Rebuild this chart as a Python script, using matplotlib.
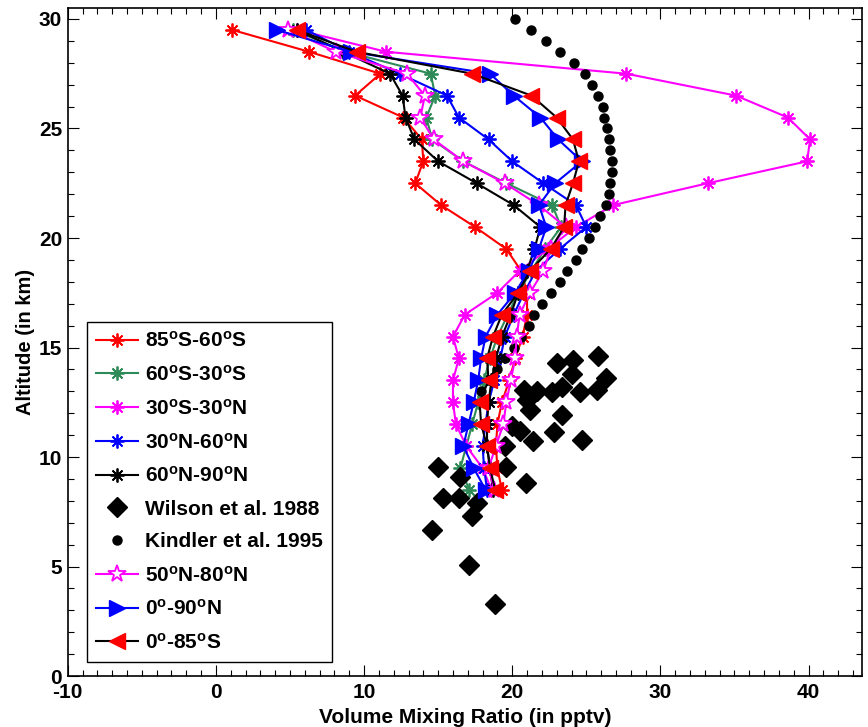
import numpy as np
import matplotlib
matplotlib.use("Agg")
import matplotlib.pyplot as plt
from matplotlib.ticker import MultipleLocator

plt.rcParams["font.family"] = ["Liberation Sans", "DejaVu Sans"]
plt.rcParams["font.weight"] = "bold"
plt.rcParams["mathtext.fontset"] = "custom"
plt.rcParams["mathtext.rm"] = "Liberation Sans:bold"
plt.rcParams["mathtext.bf"] = "Liberation Sans:bold"
plt.rcParams["mathtext.default"] = "bf"
plt.rcParams["axes.unicode_minus"] = False

# model altitude levels (km)
alt = [29.5, 28.5, 27.5, 26.5, 25.5, 24.5, 23.5, 22.5, 21.5, 20.5, 19.5,
       18.5, 17.5, 16.5, 15.5, 14.5, 13.5, 12.5, 11.5, 10.5, 9.5, 8.5]

s85_60 = [1.1, 6.3, 11.1, 9.4, 12.65, 13.9, 14.0, 13.45, 15.2, 17.5, 19.6,
          20.6, 21.0, 21.0, 20.7, 20.2, 19.8, 19.3, 19.0, 18.9, 19.0, 19.3]
s60_30 = [5.2, 8.8, 14.5, 14.8, 14.2, 14.6, 16.7, 19.6, 22.7, 23.3, 22.2,
          21.3, 20.4, 19.7, 19.0, 18.5, 18.1, 17.7, 17.3, 16.9, 16.5, 17.1]
s30_30 = [5.5, 11.5, 27.7, 35.1, 38.6, 40.1, 39.9, 33.2, 26.8, 24.3, 22.4,
          20.5, 19.0, 16.8, 16.0, 16.4, 16.0, 16.0, 16.2, 16.9, 18.0, 18.6]
n30_60 = [6.1, 9.0, 12.4, 15.6, 16.4, 18.4, 20.0, 22.1, 24.3, 25.0, 23.2,
          21.6, 20.8, 20.1, 19.5, 19.2, 18.8, 18.4, 18.2, 18.0, 18.1, 18.3]
n60_90 = [5.45, 8.6, 11.75, 12.6, 12.8, 13.4, 15.0, 17.6, 20.1, 21.9, 21.5,
          21.0, 20.4, 19.9, 19.3, 18.9, 18.6, 18.4, 18.3, 18.3, 18.5, 18.7]
n50_80 = [4.9, 8.1, 12.9, 14.1, 13.8, 14.7, 16.7, 19.5, 21.8, 23.6, 22.6,
          22.1, 21.2, 20.5, 20.3, 20.2, 19.9, 19.6, 19.4, 18.9, 18.4, 18.8]
n0_90 = [4.1, 9.1, 18.5, 20.1, 21.9, 23.1, 24.7, 22.9, 21.8, 22.3, 21.8,
         21.1, 20.2, 19.0, 18.2, 17.9, 17.7, 17.4, 17.05, 16.7, 17.4, 18.2]
s0_85 = [5.45, 9.5, 17.3, 21.3, 23.0, 24.1, 24.5, 24.1, 23.6, 23.5, 22.6,
         21.2, 20.4, 19.3, 18.7, 18.3, 18.4, 17.8, 17.9, 18.3, 18.5, 18.85]

# Wilson et al. 1988
wilson_x = [23.0, 24.1, 25.8, 24.0, 26.3, 20.8, 21.7, 22.7, 23.35, 24.55,
            25.7, 21.0, 21.2, 23.35, 20.0, 20.5, 21.4, 22.8, 24.7, 19.5,
            19.6, 20.9, 15.0, 16.5, 15.3, 16.4, 17.65, 17.3, 14.6, 17.05,
            18.85]
wilson_y = [14.3, 14.45, 14.6, 13.8, 13.6, 13.05, 13.0, 12.95, 13.2, 12.95,
            13.05, 12.6, 12.15, 11.9, 11.4, 11.2, 10.75, 11.15, 10.8, 10.5,
            9.55, 8.8, 9.55, 9.1, 8.15, 8.15, 7.9, 7.3, 6.65, 5.05,
            3.3]

# Kindler et al. 1995
kindler_y = [30.0, 29.5, 29.0, 28.5, 28.0, 27.5, 27.0, 26.5, 26.0, 25.5,
             25.0, 24.5, 24.0, 23.5, 23.0, 22.5, 22.0, 21.5, 21.0, 20.5,
             20.0, 19.5, 19.0, 18.5, 18.0, 17.5, 17.0, 16.5, 16.0, 15.5,
             15.0, 14.5, 14.0, 13.5, 13.0]
kindler_x = [20.2, 21.3, 22.3, 23.2, 24.2, 24.9, 25.4, 25.8, 26.1, 26.2,
             26.4, 26.55, 26.6, 26.7, 26.7, 26.6, 26.5, 26.3, 25.9, 25.6,
             25.2, 24.7, 24.3, 23.7, 23.2, 22.6, 22.0, 21.5, 21.1, 20.6,
             20.1, 19.5, 19.0, 18.5, 17.9]

ast = (8, 2, 0)

fig = plt.figure(figsize=(8.68, 7.27), dpi=100)
ax = fig.add_axes([0.078, 0.070, 0.915, 0.919])

ax.plot(s85_60, alt, color="red", lw=1.5, marker=ast, ms=10, mew=1.3,
        label="85$^{o}$S-60$^{o}$S")
ax.plot(s60_30, alt, color="#2e8b57", lw=1.5, marker=ast, ms=10, mew=1.3,
        label="60$^{o}$S-30$^{o}$S")
ax.plot(s30_30, alt, color="magenta", lw=1.5, marker=ast, ms=10, mew=1.3,
        label="30$^{o}$S-30$^{o}$N")
ax.plot(n30_60, alt, color="blue", lw=1.5, marker=ast, ms=10, mew=1.3,
        label="30$^{o}$N-60$^{o}$N")
ax.plot(n60_90, alt, color="black", lw=1.5, marker=ast, ms=10, mew=1.3,
        label="60$^{o}$N-90$^{o}$N")
ax.plot(wilson_x, wilson_y, ls="none", marker="D", ms=10, color="black",
        label="Wilson et al. 1988")
ax.plot(kindler_x, kindler_y, ls="none", marker="o", ms=6.5, color="black",
        label="Kindler et al. 1995")
ax.plot(n50_80, alt, color="magenta", lw=1.5, marker="*", ms=13, mew=1.3,
        mfc="white", mec="magenta", label="50$^{o}$N-80$^{o}$N")
ax.plot(n0_90, alt, color="blue", lw=1.5, marker=">", ms=12,
        mfc="blue", mec="blue", label="0$^{o}$-90$^{o}$N")
ax.plot(s0_85, alt, color="black", lw=1.5, marker="<", ms=12,
        mfc="red", mec="red", label="0$^{o}$-85$^{o}$S")

ax.set_xlim(-10, 43.6)
ax.set_ylim(0, 30.5)
ax.xaxis.set_major_locator(MultipleLocator(10))
ax.xaxis.set_minor_locator(MultipleLocator(1))
ax.yaxis.set_major_locator(MultipleLocator(5))
ax.yaxis.set_minor_locator(MultipleLocator(1))
ax.tick_params(which="both", direction="in", top=True, right=True,
               labelsize=15, width=0.8)
ax.tick_params(which="major", length=8)
ax.tick_params(which="minor", length=4)
ax.tick_params(axis="x", pad=5)
ax.tick_params(axis="y", pad=4)
for sp in ax.spines.values():
    sp.set_linewidth(1.2)

ax.set_xlabel("Volume Mixing Ratio (in pptv)", fontsize=15,
              fontweight="bold", labelpad=4)
ax.set_ylabel("Altitude (in km)", fontsize=14.5, fontweight="bold",
              labelpad=3)

leg = ax.legend(loc="lower left", bbox_to_anchor=(0.024, 0.021),
                fontsize=15, frameon=True, fancybox=False,
                edgecolor="black", framealpha=1, handlelength=2.0,
                handletextpad=0.35, labelspacing=0.66, borderpad=0.45,
                borderaxespad=0)
leg.get_frame().set_linewidth(1.0)

plt.savefig("out.png", dpi=100)
plt.close()
